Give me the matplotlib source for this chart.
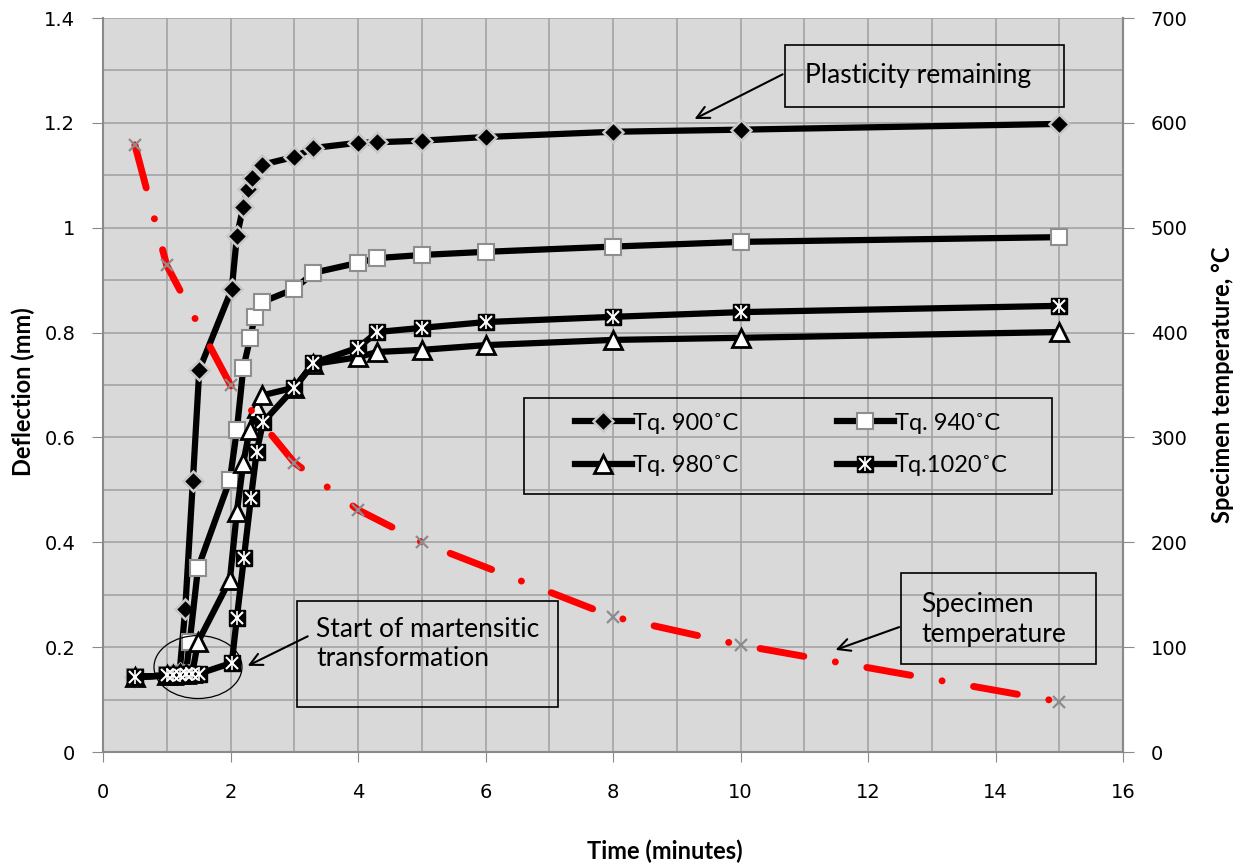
import numpy as np
import matplotlib
matplotlib.use("Agg")
import matplotlib.pyplot as plt
from matplotlib.lines import Line2D
from matplotlib.patches import Rectangle, Ellipse
from matplotlib.legend_handler import HandlerTuple

plt.rcParams['font.family'] = ['Lato', 'DejaVu Sans']

# deflection curves (time in minutes, deflection in mm)
t900 = [0.5, 1.0, 1.1, 1.2, 1.29, 1.41, 1.51, 2.02, 2.10, 2.20, 2.27, 2.34, 2.49, 3.0, 3.3, 4.0, 4.3, 5.0, 6.0, 8.0, 10.0, 15.0]
d900 = [0.143, 0.146, 0.148, 0.150, 0.273, 0.517, 0.729, 0.883, 0.984, 1.04, 1.074, 1.095, 1.12, 1.135, 1.152, 1.162, 1.163, 1.166, 1.173, 1.183, 1.187, 1.198]

t940 = [0.5, 1.0, 1.1, 1.2, 1.3, 1.36, 1.49, 1.99, 2.10, 2.20, 2.31, 2.38, 2.49, 3.0, 3.3, 4.0, 4.3, 5.0, 6.0, 8.0, 10.0, 15.0]
d940 = [0.143, 0.146, 0.147, 0.148, 0.150, 0.21, 0.351, 0.519, 0.614, 0.732, 0.79, 0.83, 0.858, 0.883, 0.914, 0.933, 0.942, 0.948, 0.954, 0.964, 0.973, 0.982]

t980 = [0.5, 1.0, 1.1, 1.2, 1.3, 1.4, 1.49, 1.99, 2.10, 2.20, 2.30, 2.41, 2.49, 3.0, 3.3, 4.0, 4.3, 5.0, 6.0, 8.0, 10.0, 15.0]
d980 = [0.143, 0.146, 0.147, 0.148, 0.149, 0.150, 0.21, 0.328, 0.458, 0.551, 0.614, 0.656, 0.68, 0.695, 0.74, 0.753, 0.763, 0.767, 0.776, 0.786, 0.79, 0.801]

t1020 = [0.5, 1.0, 1.1, 1.2, 1.3, 1.4, 1.5, 2.02, 2.10, 2.21, 2.32, 2.41, 2.51, 3.0, 3.3, 4.0, 4.3, 5.0, 6.0, 8.0, 10.0, 15.0]
d1020 = [0.143, 0.146, 0.147, 0.147, 0.148, 0.148, 0.149, 0.17, 0.256, 0.37, 0.484, 0.572, 0.629, 0.694, 0.742, 0.771, 0.801, 0.809, 0.82, 0.83, 0.839, 0.851]

# specimen temperature (deg C)
t_temp = [0.5, 1.0, 2.0, 3.0, 4.0, 5.0, 8.0, 10.0, 15.0]
temp = [579, 464, 350, 276, 231, 200, 129, 102, 48]

labels = ['Tq. 900˚C', 'Tq. 940˚C', 'Tq. 980˚C', 'Tq.1020˚C']

fig = plt.figure(figsize=(12.4, 8.65), dpi=100)
ax = fig.add_axes([103/1240, 1-752/865, 1020/1240, 734/865])
ax.set_facecolor('#d9d9d9')
ax.set_xlim(0, 16)
ax.set_ylim(0, 1.4)
ax.set_xticks(np.arange(0, 17, 2))
ax.set_xticks(np.arange(0, 17, 1), minor=True)
ax.set_yticks(np.arange(0, 1.41, 0.2))
ax.set_yticks(np.arange(0, 1.41, 0.1), minor=True)
ax.set_yticklabels(['0', '0.2', '0.4', '0.6', '0.8', '1', '1.2', '1.4'])
ax.grid(which='both', color='#a3a3a3', lw=1.2)
ax.set_axisbelow(True)
ax.tick_params(which='minor', length=0)
ax.tick_params(axis='y', which='major', length=8, color='#8a8a8a', pad=12,
               labelsize=14, labelfontfamily='DejaVu Sans')
ax.tick_params(axis='x', which='major', length=7, color='#8a8a8a', pad=15,
               labelsize=14, labelfontfamily='DejaVu Sans')
ax.spines['top'].set_visible(False)
for s in ['left', 'bottom', 'right']:
    ax.spines[s].set_color('#8a8a8a')
    ax.spines[s].set_linewidth(1.5)

lw = 4.5
st900 = dict(color='black', lw=lw, marker='D', ms=10, mfc='black', mec='#c8c8c8', mew=1.8)
st940 = dict(color='black', lw=lw, marker='s', ms=11, mfc='white', mec='#8e8e8e', mew=1.5)
st980 = dict(color='black', lw=lw, marker='^', ms=13, mfc='white', mec='black', mew=2)
st1020 = dict(color='black', lw=lw, marker='s', ms=12, mfc='black', mec='black', mew=1)
stx = dict(ls='none', marker='x', ms=8, color='white', mew=1.5)
stbar = dict(ls='none', marker='|', ms=10, color='white', mew=1.2)

ax.plot(t900, d900, zorder=3, **st900)
ax.plot(t940, d940, zorder=4, **st940)
ax.plot(t980, d980, zorder=5, **st980)
ax.plot(t1020, d1020, zorder=6, **st1020)
ax.plot(t1020, d1020, zorder=7, **stx)
ax.plot(t1020, d1020, zorder=7, **stbar)

# temperature on the right axis
ax2 = ax.twinx()
ax2.set_ylim(0, 700)
ax2.set_yticks(np.arange(0, 701, 100))
ax2.tick_params(axis='y', length=8, color='#8a8a8a', pad=12,
                labelsize=14, labelfontfamily='DejaVu Sans')
for s in ['top', 'left', 'bottom']:
    ax2.spines[s].set_visible(False)
ax2.spines['right'].set_color('#8a8a8a')
ax2.spines['right'].set_linewidth(1.5)
ax2.plot(t_temp, temp, color='red', lw=5, dashes=(6.4, 4.6, 0.01, 4.6),
         dash_capstyle='round', zorder=3)
ax2.plot(t_temp, temp, ls='none', marker='x', ms=8, color='#8c8c8c', mew=1.6, zorder=4)

# legend (transparent, with a separate frame)
h900 = Line2D([], [], **st900)
h940 = Line2D([], [], **st940)
h980 = Line2D([], [], **st980)
h1020 = (Line2D([], [], **st1020), Line2D([], [], **stx), Line2D([], [], **stbar))
leg = ax2.legend([h900, h980, h940, h1020],
                 [labels[0], labels[2], labels[1], labels[3]],
                 handler_map={tuple: HandlerTuple(ndivide=1, pad=0)},
                 ncol=2, mode='expand', frameon=False, loc='center',
                 bbox_to_anchor=((575-103)/1020, (752-448)/734, 433/1020, 0.01),
                 fontsize=17, handlelength=2.4, handletextpad=0.05,
                 labelspacing=0.9, borderpad=0, borderaxespad=0)
ax2.add_patch(Rectangle(((524-103)/1020, (752-494)/734), 528/1020, 96/734,
                        transform=ax2.transAxes, fill=False, ec='black', lw=1.2, zorder=10))

# annotation boxes
def box(x0, x1, y0, y1):
    ax.add_patch(Rectangle((x0, y0), x1-x0, y1-y0, fill=False, ec='black', lw=1.2, zorder=10))

arrow = dict(arrowstyle='->', color='black', lw=1.5, mutation_scale=22)

box(10.70, 15.07, 1.2302, 1.3485)
ax.text(11.01, 1.291, 'Plasticity remaining', fontsize=19, va='center', ha='left', zorder=11)
ax.annotate('', xy=(9.24, 1.205), xytext=(10.70, 1.295), arrowprops=arrow, zorder=11)

box(12.52, 15.58, 0.1678, 0.3414)
ax.text(12.83, 0.252, 'Specimen\ntemperature', fontsize=19, va='center', ha='left',
        linespacing=1.25, zorder=11)
ax.annotate('', xy=(11.45, 0.193), xytext=(12.53, 0.240), arrowprops=arrow, zorder=11)

box(3.04, 7.14, 0.0858, 0.288)
ax.text(3.34, 0.206, 'Start of martensitic\ntransformation', fontsize=19, va='center',
        ha='left', linespacing=1.2, zorder=11)
ax.annotate('', xy=(2.23, 0.162), xytext=(3.25, 0.223), arrowprops=arrow, zorder=11)
ax.add_patch(Ellipse((1.49, 0.162), 1.38, 0.12, fill=False, ec='black', lw=0.9, zorder=11))

# axis titles
fig.text(23/1240, 1-392/865, 'Deflection (mm)', rotation=90, ha='center', va='center',
         fontsize=17, fontweight='bold')
fig.text(1222/1240, 1-385/865, 'Specimen temperature, °C', rotation=90, ha='center',
         va='center', fontsize=17, fontweight='bold')
fig.text(665/1240, 1-851/865, 'Time (minutes)', ha='center', va='center',
         fontsize=17, fontweight='bold')

fig.savefig('out.png', dpi=100)
